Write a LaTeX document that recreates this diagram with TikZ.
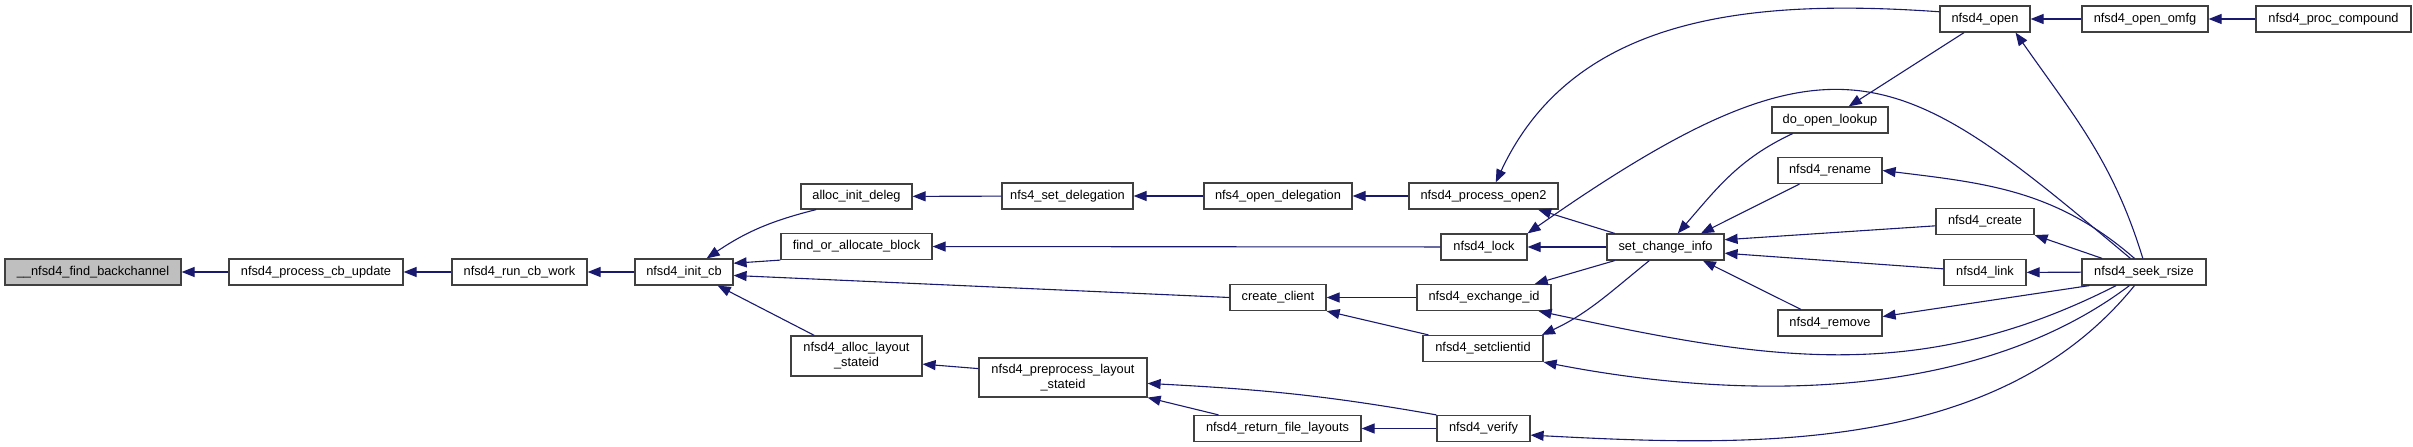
\documentclass[tikz,border=0pt]{standalone}
\usepackage{fontspec}
\setmainfont{Liberation Sans}
\usetikzlibrary{arrows.meta}
\definecolor{azulnoche}{HTML}{191970}
\definecolor{grisborde}{HTML}{404040}
\definecolor{grisraiz}{HTML}{BFBFBF}

\begin{document}
\begin{tikzpicture}[x=1pt, y=1pt, >={Triangle[length=13pt, width=10pt]},
        funcion/.style={rectangle, draw=grisborde, line width=1.2pt, fill=white, inner sep=0pt, minimum height=26pt, align=center, font=\fontsize{12.8}{15}\selectfont},
        raiz/.style={funcion, fill=grisraiz},
        doble/.style={funcion, minimum height=40pt},
        llamada/.style={->, color=azulnoche, line width=1.1pt} % llamador -> llamado
    ]
        \useasboundingbox (0,0) rectangle (2413,447);

        % --- Cadena principal ---
        \node[raiz, minimum width=176pt] (fbc) at (93,175) {\_\_nfsd4\_find\_backchannel};
        \node[funcion, minimum width=174pt] (pcu) at (316,175) {nfsd4\_process\_cb\_update};
        \node[funcion, minimum width=135pt] (rcw) at (519.5,175) {nfsd4\_run\_cb\_work};
        \node[funcion, minimum width=98pt] (icb) at (684,175) {nfsd4\_init\_cb};

        % --- Llamadores de nfsd4_init_cb ---
        \node[funcion, minimum width=111pt, minimum height=25pt] (aid) at (856.5,250.5) {alloc\_init\_deleg};
        \node[funcion, minimum width=151pt] (fab) at (856.5,200.5) {find\_or\_allocate\_block};
        \node[doble, minimum width=131pt] (als) at (856.5,91) {nfsd4\_alloc\_layout\\\_stateid};
        \node[funcion, minimum width=96pt] (cc) at (1278,149.5) {create\_client};

        % --- Columna de delegaciones y layouts ---
        \node[funcion, minimum width=131pt] (nsd) at (1067.5,251) {nfs4\_set\_delegation};
        \node[funcion, minimum width=148pt] (nod) at (1278,251) {nfs4\_open\_delegation};
        \node[doble, minimum width=168pt, minimum height=39pt] (pls) at (1063,69.5) {nfsd4\_preprocess\_layout\\\_stateid};
        \node[funcion, minimum width=167pt] (rfl) at (1277.5,18.5) {nfsd4\_return\_file\_layouts};

        % --- Operaciones nfsd4 ---
        \node[funcion, minimum width=149pt] (po2) at (1483.5,251) {nfsd4\_process\_open2};
        \node[funcion, minimum width=86pt] (lock) at (1484,200) {nfsd4\_lock};
        \node[funcion, minimum width=134pt] (exid) at (1484,149.5) {nfsd4\_exchange\_id};
        \node[funcion, minimum width=120pt] (scid) at (1483,98.5) {nfsd4\_setclientid};
        \node[funcion, minimum width=93pt] (ver) at (1483.5,18.5) {nfsd4\_verify};
        \node[funcion, minimum width=117pt] (sci) at (1665.5,200) {set\_change\_info};

        \node[funcion, minimum width=116pt] (dol) at (1830,327) {do\_open\_lookup};
        \node[funcion, minimum width=104pt] (ren) at (1830,276.5) {nfsd4\_rename};
        \node[funcion, minimum width=104pt] (rem) at (1830,124) {nfsd4\_remove};

        \node[funcion, minimum width=90pt] (open) at (1985,428) {nfsd4\_open};
        \node[funcion, minimum width=98pt] (cre) at (1985,225.5) {nfsd4\_create};
        \node[funcion, minimum width=82pt] (link) at (1985,174.5) {nfsd4\_link};

        \node[funcion, minimum width=126pt] (omfg) at (2145,428) {nfsd4\_open\_omfg};
        \node[funcion, minimum width=124pt] (seek) at (2144,175) {nfsd4\_seek\_rsize};
        \node[funcion, minimum width=155pt] (pc) at (2333.5,428) {nfsd4\_proc\_compound};

        % ================= LLAMADAS =================

        % Cadena principal
        \draw[llamada] (pcu) -- (fbc);
        \draw[llamada] (rcw) -- (pcu);
        \draw[llamada] (icb) -- (rcw);
        \draw[llamada] (aid.198) to[bend right=10] (icb.31);
        \draw[llamada] (fab.south west) -- (icb.10);
        \draw[llamada] (cc.west) -- (icb.-4);
        \draw[llamada] (als.154) -- (icb.-22);

        % Delegaciones
        \draw[llamada] (nsd) -- (aid);
        \draw[llamada] (nod) -- (nsd);
        \draw[llamada] (po2) -- (nod);
        \draw[llamada] (lock) -- (fab);
        \draw[llamada] (exid) -- (cc);
        \draw[llamada] (scid.166) -- (cc.south east);

        % Layouts
        \draw[llamada] (pls.174) -- (als.-7);
        \draw[llamada] (rfl.167) -- (pls.south east);
        \draw[llamada] (ver.north west) to[out=170, in=-3] (pls.-4);
        \draw[llamada] (ver) -- (rfl);

        % Alrededor de set_change_info
        \draw[llamada] (open.171) to[out=176, in=65] (po2.48);
        \draw[llamada] (sci.165) -- (po2.-14);
        \draw[llamada] (sci) -- (lock);
        \draw[llamada] (sci.195) -- (exid.15);
        \draw[llamada] (sci.220) to[out=219, in=25] (scid.13);
        \draw[llamada] (open.213) -- (dol.36);
        \draw[llamada] (dol.200) to[out=205, in=49] (sci.48);
        \draw[llamada] (ren.204) -- (sci.21);
        \draw[llamada] (cre.185) -- (sci.7);
        \draw[llamada] (link.175) -- (sci.-6);
        \draw[llamada] (rem.155) -- (sci.-20);

        % nfsd4_open y compound
        \draw[llamada] (omfg) -- (open);
        \draw[llamada] (pc) -- (omfg);

        % Todo lo que sale de nfsd4_seek_rsize
        \draw[llamada] (seek.135) .. controls +(140:300pt) and +(35:380pt) .. (lock.north east);
        \draw[llamada] (seek.95) to[out=107, in=-55] (open.-24);
        \draw[llamada] (seek.125) to[out=139, in=-7] (ren.east);
        \draw[llamada] (seek.162) -- (cre.south east);
        \draw[llamada] (seek) -- (link);
        \draw[llamada] (seek.194) -- (rem.7);
        \draw[llamada] (seek.206) to[out=207, in=-12] (exid.-14);
        \draw[llamada] (seek.223) to[out=217, in=-11, looseness=0.85] (scid.south east);
        \draw[llamada] (seek.235) to[out=231, in=-3, looseness=0.9] (ver.-8);

    \end{tikzpicture}
\end{document}
